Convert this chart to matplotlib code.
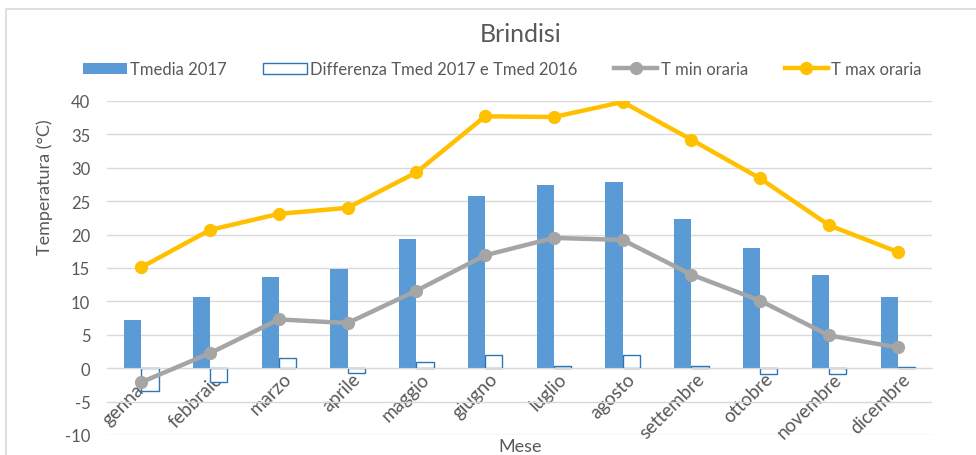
import numpy as np
from matplotlib import pyplot as plt
from matplotlib.patches import Rectangle

mesi = ["gennaio", "febbraio", "marzo", "aprile", "maggio", "giugno",
        "luglio", "agosto", "settembre", "ottobre", "novembre", "dicembre"]
tmedia_2017 = [7.2, 10.7, 13.7, 14.8, 19.4, 25.7, 27.4, 27.8, 22.3, 18.0, 14.0, 10.7]
diff_2017_2016 = [-3.4, -2.1, 1.5, -0.7, 0.9, 1.9, 0.4, 1.95, 0.3, -0.9, -0.8, 0.15]
t_min = [-2.1, 2.25, 7.3, 6.75, 11.6, 16.9, 19.5, 19.2, 14.0, 10.1, 4.9, 3.1]
t_max = [15.1, 20.7, 23.1, 24.0, 29.3, 37.7, 37.6, 39.85, 34.2, 28.4, 21.4, 17.4]

plt.rcParams['font.family'] = ['Lato', 'DejaVu Sans']
plt.rcParams['axes.unicode_minus'] = False
txt = "#595959"

fig = plt.figure(figsize=(9.76, 4.56), dpi=100)
ax = fig.add_axes([0.1096, 0.0439, 0.8454, 0.7325])

# frame of the chart area (cropped on the right and bottom)
fig.patches.append(Rectangle((6 / 976, -0.1), 1.2, 1 - 10 / 456 + 0.1,
                             transform=fig.transFigure, fill=False,
                             edgecolor="#d9d9d9", lw=1.2))

x = np.arange(len(mesi))
w = 0.25
b1 = ax.bar(x - w / 2, tmedia_2017, w, color="#5b9bd5", label="Tmedia 2017", zorder=2)
b2 = ax.bar(x + w / 2, diff_2017_2016, w, facecolor="white", edgecolor="#2e75b6",
            lw=1, label="Differenza Tmed 2017 e Tmed 2016", zorder=2)
l1, = ax.plot(x, t_min, color="#a5a5a5", lw=3.2, marker="o", ms=8.5,
              label="T min oraria", zorder=3)
l2, = ax.plot(x, t_max, color="#ffc000", lw=3.2, marker="o", ms=8.5,
              label="T max oraria", zorder=3)

ax.set_xlim(-0.5, 11.5)
ax.set_ylim(-10, 40)
ax.set_yticks(range(-10, 41, 5))
ax.yaxis.grid(True, color="#d9d9d9", lw=1)
ax.set_axisbelow(True)
for s in ["top", "right", "left"]:
    ax.spines[s].set_visible(False)
ax.spines["bottom"].set_position(("data", 0))
ax.spines["bottom"].set_color("#d9d9d9")
ax.tick_params(length=0, colors=txt, labelsize=12)
ax.tick_params(axis="y", pad=12)
ax.tick_params(axis="x", labelsize=13.5, pad=1)
ax.set_xticks(x + 0.06)
ax.set_xticklabels(mesi, rotation=45, ha="right", rotation_mode="anchor")

fig.text(0.046, 0.59, "Temperatura (°C)", rotation=90, ha="center",
         va="center", fontsize=13, color=txt)
fig.text(0.533, 0.02, "Mese", ha="center", va="center", fontsize=13, color=txt)
fig.text(0.533, 0.925, "Brindisi", ha="center", va="center", fontsize=18, color=txt)

fig.legend([b1, b2, l1, l2], [h.get_label() for h in [b1, b2, l1, l2]],
           loc="center", bbox_to_anchor=(0.515, 0.846), ncol=4, frameon=False,
           fontsize=12, handlelength=2.6, columnspacing=2.2, handletextpad=0.2,
           labelcolor=txt)

fig.savefig("out.png", dpi=100)
